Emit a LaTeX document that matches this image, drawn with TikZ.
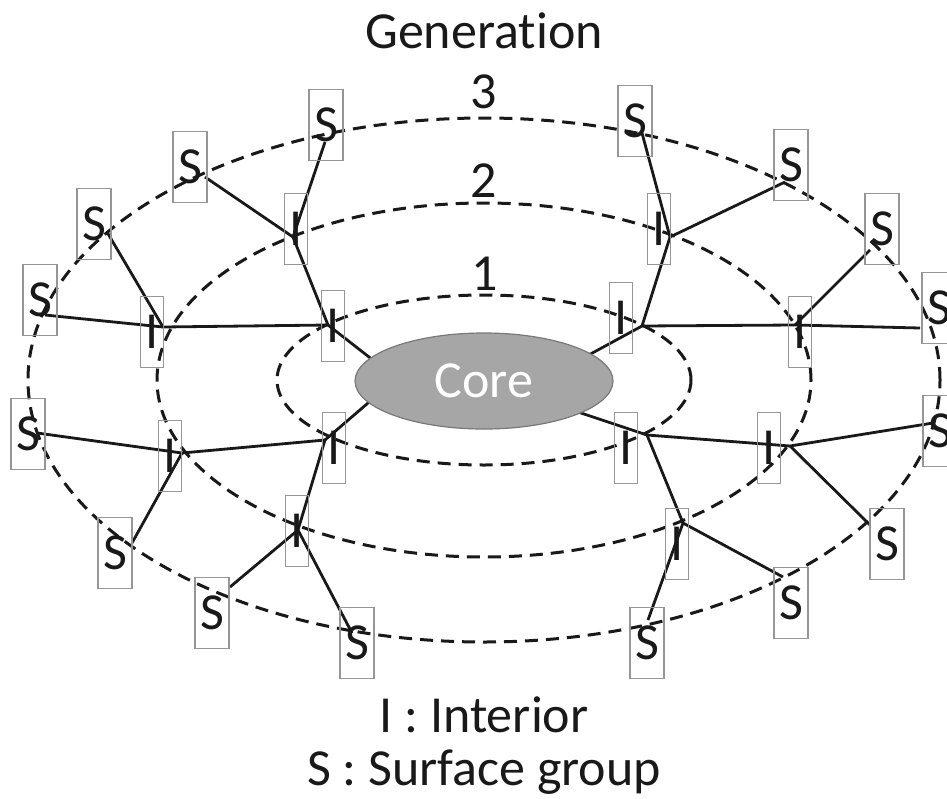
\documentclass[tikz,border=0pt]{standalone}
\usepackage{fontspec}
\setmainfont{Carlito}[Ligatures=NoCommon]
\usetikzlibrary{shapes.geometric}
\definecolor{boxgray}{RGB}{150,150,150}
\definecolor{coregray}{RGB}{166,166,166}
\definecolor{coreedge}{RGB}{120,120,120}
\definecolor{ink}{RGB}{25,25,25}
\begin{document}
\begin{tikzpicture}[x=1pt,y=-1pt,
  bigtext/.style={font=\fontsize{52}{60}\selectfont, text=ink, inner sep=0pt},
  sbox/.style={draw=boxgray, line width=1.3pt, minimum width=34pt, minimum height=71pt,
               inner sep=0pt, text=ink, font=\fontsize{52}{60}\selectfont},
  ibox/.style={sbox, minimum width=23pt},
  gendash/.style={draw=ink, line width=3pt, dash pattern=on 13pt off 8pt},
  link/.style={draw=ink, line width=2.8pt}
]
\useasboundingbox (0,0) rectangle (947,798);

% generation shells
\draw[gendash] (484,380) ellipse [x radius=207pt, y radius=85pt];
\draw[gendash] (484,380) ellipse [x radius=327pt, y radius=177pt];
\draw[gendash] (484,380) ellipse [x radius=456pt, y radius=262pt];

% titles and labels
\node[bigtext, anchor=base] (title) at (484,48) {Generation};
\node[bigtext, anchor=base] (g3) at (484,108) {3};
\node[bigtext, anchor=base] (g2) at (484,197) {2};
\node[bigtext, anchor=base] (g1) at (485,290) {1};
\node[bigtext, anchor=base] (leg1) at (484,732) {I : Interior};
\node[bigtext, anchor=base] (leg2) at (484,785) {S : Surface group};

% junction points
\coordinate (jA) at (293,237); \coordinate (jB) at (163,327);
\coordinate (jC) at (328,325); \coordinate (jD) at (670,237);
\coordinate (jE) at (642,326); \coordinate (jF) at (795,325);
\coordinate (jG) at (182,453); \coordinate (jH) at (325,440);
\coordinate (jI) at (298,530); \coordinate (jJ) at (647,435);
\coordinate (jK) at (790,446); \coordinate (jL) at (683,523);
% surface attachment points
\coordinate (pA) at (325,142); \coordinate (pB) at (205,177);
\coordinate (pC) at (107,232); \coordinate (pD) at (45,315);
\coordinate (pE) at (642,133); \coordinate (pF) at (785,182);
\coordinate (pG) at (870,250); \coordinate (pH) at (920,328);
\coordinate (pI) at (37,433);  \coordinate (pJ) at (132,543);
\coordinate (pK) at (230,587); \coordinate (pL) at (352,633);
\coordinate (pM) at (933,423); \coordinate (pN) at (870,525);
\coordinate (pO) at (783,577); \coordinate (pP) at (648,620);
% core attachment points
\coordinate (c1) at (378,364); \coordinate (c2) at (585,357);
\coordinate (c3) at (375,397); \coordinate (c4) at (572,410);

% connectors
\draw[link] (c1) -- (jC); \draw[link] (jC) -- (jA); \draw[link] (jC) -- (jB);
\draw[link] (jA) -- (pA); \draw[link] (jA) -- (pB);
\draw[link] (jB) -- (pC); \draw[link] (jB) -- (pD);
\draw[link] (c2) -- (jE); \draw[link] (jE) -- (jD); \draw[link] (jE) -- (jF);
\draw[link] (jD) -- (pE); \draw[link] (jD) -- (pF);
\draw[link] (jF) -- (pG); \draw[link] (jF) -- (pH);
\draw[link] (c3) -- (jH); \draw[link] (jH) -- (jG); \draw[link] (jH) -- (jI);
\draw[link] (jG) -- (pI); \draw[link] (jG) -- (pJ);
\draw[link] (jI) -- (pK); \draw[link] (jI) -- (pL);
\draw[link] (c4) -- (jJ); \draw[link] (jJ) -- (jK); \draw[link] (jJ) -- (jL);
\draw[link] (jK) -- (pM); \draw[link] (jK) -- (pN);
\draw[link] (jL) -- (pO); \draw[link] (jL) -- (pP);

% core
\node[ellipse, draw=coreedge, line width=1.2pt, fill=coregray, inner sep=0pt,
      minimum width=258pt, minimum height=96pt, text=white,
      font=\fontsize{52}{60}\selectfont] (core) at (484,381) {Core};

% interior groups
\node[ibox] (iA) at (296,229) {I};
\node[ibox] (iB) at (152,332) {I};
\node[ibox] (iC) at (333,326) {I};
\node[ibox] (iD) at (659,229) {I};
\node[ibox] (iE) at (621,318) {I};
\node[ibox] (iF) at (800,332) {I};
\node[ibox] (iG) at (170,456) {I};
\node[ibox] (iH) at (334,448) {I};
\node[ibox] (iI) at (297,531) {I};
\node[ibox] (iJ) at (626,448) {I};
\node[ibox] (iK) at (769,448) {I};
\node[ibox] (iL) at (677,544) {I};

% surface groups
\node[sbox] (sA) at (326,125) {S};
\node[sbox] (sB) at (190,167) {S};
\node[sbox] (sC) at (94,224) {S};
\node[sbox] (sD) at (40,300) {S};
\node[sbox] (sE) at (635,121) {S};
\node[sbox] (sF) at (791,165) {S};
\node[sbox] (sG) at (882,229) {S};
\node[sbox] (sH) at (939,308) {S};
\node[sbox] (sI) at (28,434) {S};
\node[sbox] (sJ) at (115,553) {S};
\node[sbox] (sK) at (212,613) {S};
\node[sbox] (sL) at (357,643) {S};
\node[sbox] (sM) at (940,431) {S};
\node[sbox] (sN) at (887,544) {S};
\node[sbox] (sO) at (791,603) {S};
\node[sbox] (sP) at (647,643) {S};
\end{tikzpicture}
\end{document}
